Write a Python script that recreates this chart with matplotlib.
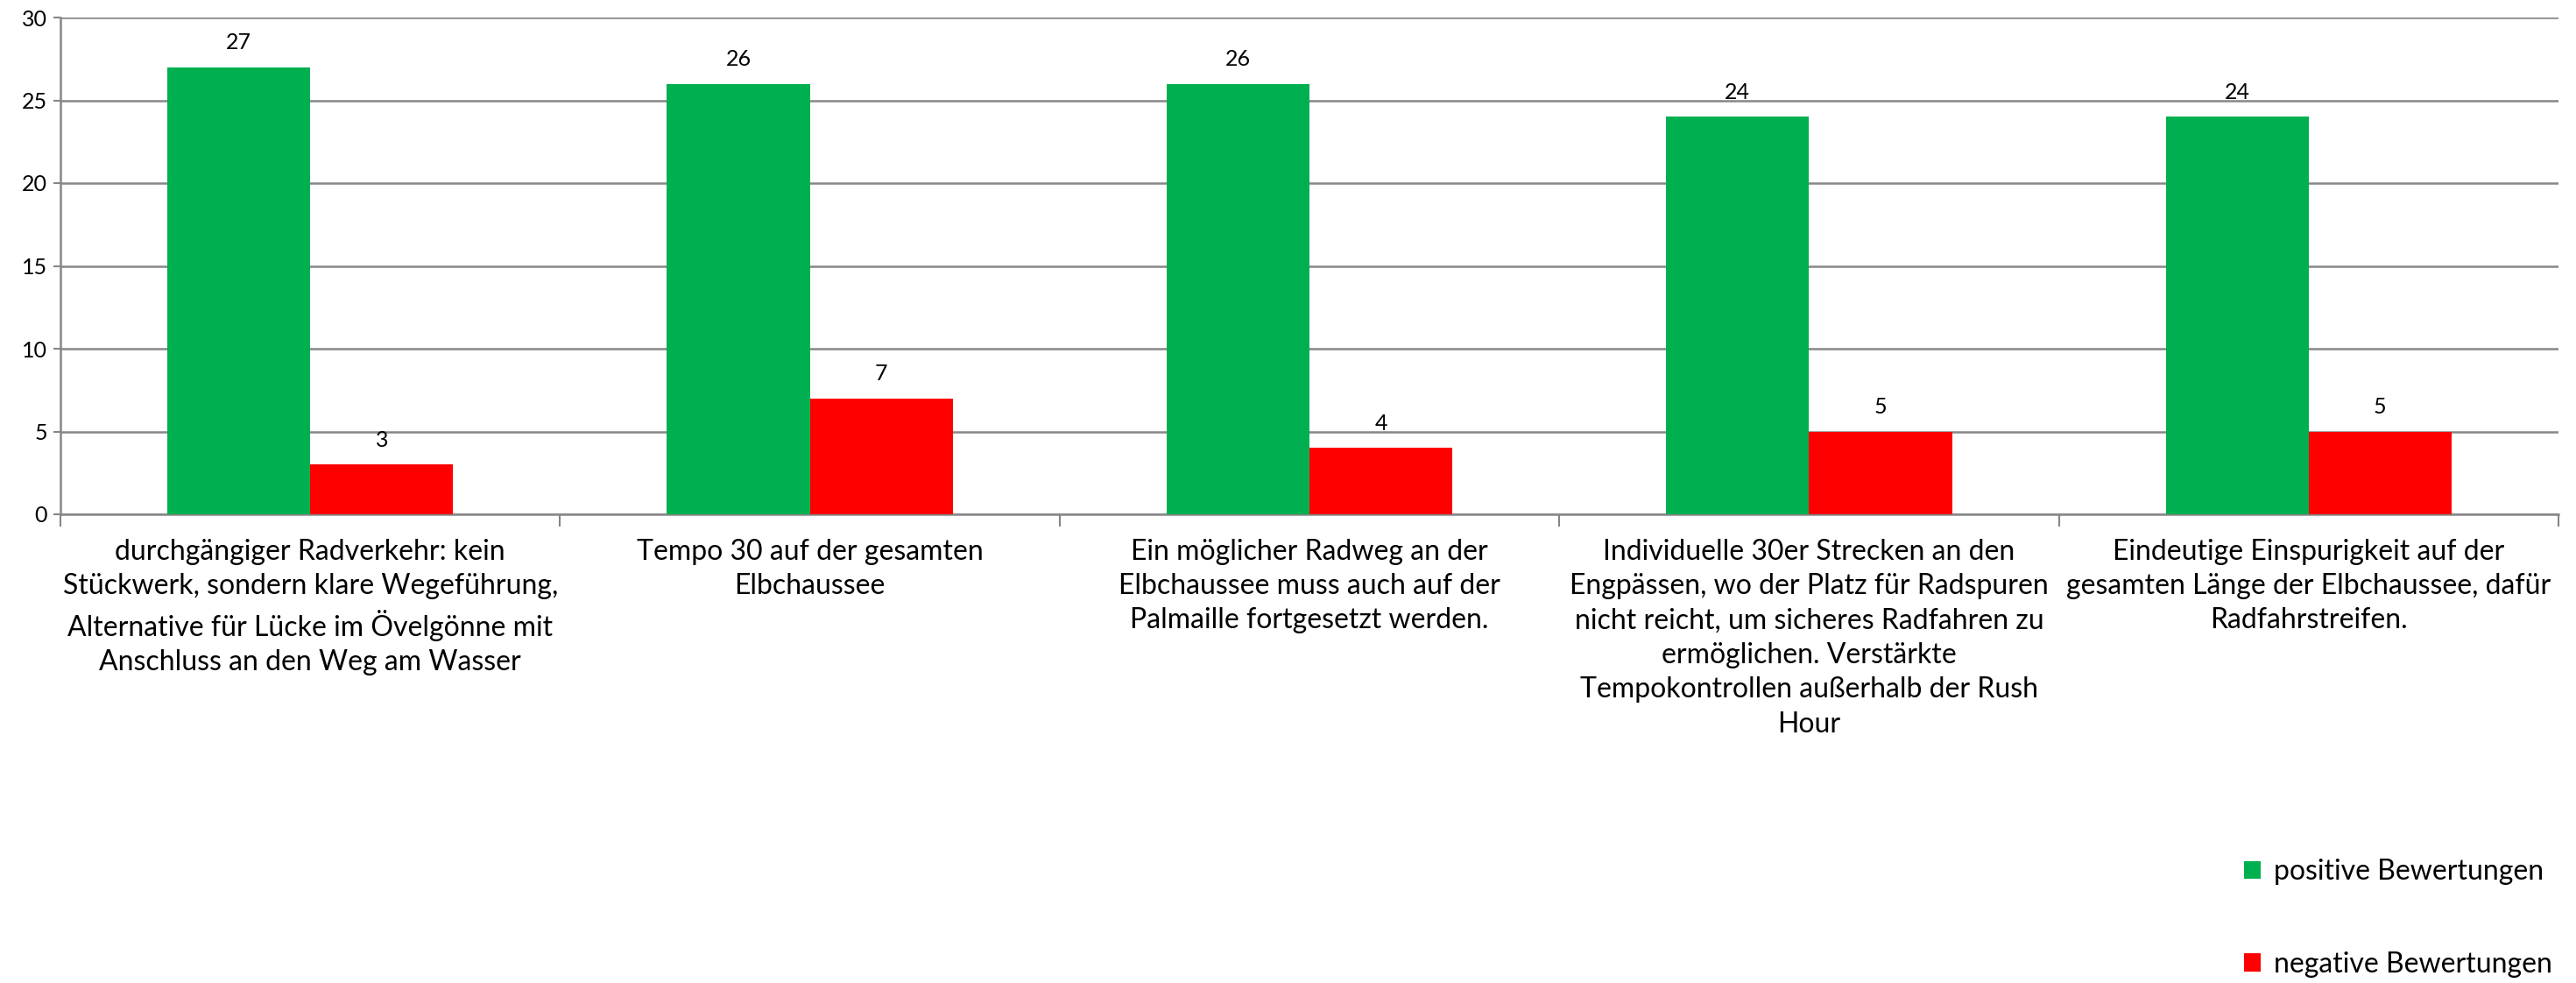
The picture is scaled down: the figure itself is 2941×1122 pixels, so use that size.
import matplotlib
matplotlib.use('Agg')
import matplotlib.pyplot as plt
import numpy as np

# datos
categorias = [
    'durchgängiger Radverkehr: kein\nStückwerk, sondern klare Wegeführung,\nAlternative für Lücke im Övelgönne mit\nAnschluss an den Weg am Wasser',
    'Tempo 30 auf der gesamten\nElbchaussee',
    'Ein möglicher Radweg an der\nElbchaussee muss auch auf der\nPalmaille fortgesetzt werden.',
    'Individuelle 30er Strecken an den\nEngpässen, wo der Platz für Radspuren\nnicht reicht, um sicheres Radfahren zu\nermöglichen. Verstärkte\nTempokontrollen außerhalb der Rush\nHour',
    'Eindeutige Einspurigkeit auf der\ngesamten Länge der Elbchaussee, dafür\nRadfahrstreifen.',
]
positivas = [27, 26, 26, 24, 24]
negativas = [3, 7, 4, 5, 5]
series = ['positive Bewertungen', 'negative Bewertungen']
colores = ['#00B050', '#FF0000']

plt.rcParams['font.family'] = ['Lato', 'DejaVu Sans']

fig = plt.figure(figsize=(29.41, 11.22), dpi=100)
ax = fig.add_axes([69 / 2941, 1 - 587 / 1122, (2921 - 69) / 2941, (587 - 20) / 1122])

x = np.arange(len(categorias))
ancho = 0.286
barras_p = ax.bar(x - ancho / 2, positivas, ancho, color=colores[0], label=series[0], zorder=3)
barras_n = ax.bar(x + ancho / 2, negativas, ancho, color=colores[1], label=series[1], zorder=3)

ax.bar_label(barras_p, padding=12, fontsize=18)
ax.bar_label(barras_n, padding=12, fontsize=18)

ax.set_xlim(-0.5, len(categorias) - 0.5)
ax.set_ylim(0, 30)
ax.set_yticks(range(0, 31, 5))
ax.tick_params(axis='y', labelsize=18, length=6, width=1.5, color='#868686', pad=5)
ax.yaxis.grid(True, color='#868686', linewidth=1.8, zorder=0)

# marcas del eje x en los límites de las categorías
ax.set_xticks(np.arange(-0.5, len(categorias), 1.0))
ax.set_xticklabels([])
ax.tick_params(axis='x', length=10, width=1.5, color='#868686')
for xi, texto in zip(x, categorias):
    ax.annotate(texto, xy=(xi, 0), xycoords=('data', 'axes fraction'),
                xytext=(0, -20), textcoords='offset points',
                ha='center', va='top', fontsize=23, linespacing=1.39)

for lado in ['top', 'right']:
    ax.spines[lado].set_visible(False)
for lado in ['left', 'bottom']:
    ax.spines[lado].set_color('#868686')
    ax.spines[lado].set_linewidth(1.8)

fig.legend(loc='center left', bbox_to_anchor=(2562 / 2941, 1 - 1048 / 1122),
           frameon=False, fontsize=23, handlelength=0.6, handleheight=0.6,
           handletextpad=0.45, labelspacing=2.37, borderpad=0, borderaxespad=0)

fig.savefig('out.png', dpi=100)
